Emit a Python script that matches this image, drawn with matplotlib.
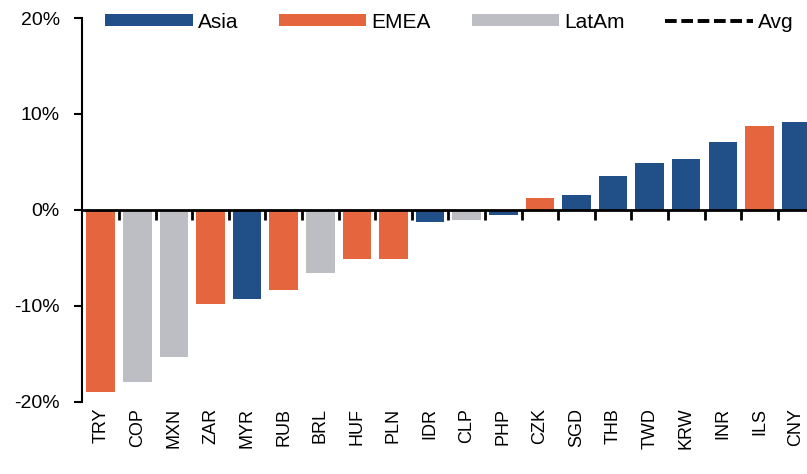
import numpy as np
import matplotlib.pyplot as plt
from matplotlib.patches import Patch
from matplotlib.lines import Line2D

plt.rcParams['font.family'] = ['Liberation Sans', 'DejaVu Sans']

# Currency performance vs USD (%), grouped by region
currencies = ['TRY', 'COP', 'MXN', 'ZAR', 'MYR', 'RUB', 'BRL', 'HUF', 'PLN', 'IDR',
              'CLP', 'PHP', 'CZK', 'SGD', 'THB', 'TWD', 'KRW', 'INR', 'ILS', 'CNY']
returns = [-19.0, -17.9, -15.3, -9.8, -9.3, -8.3, -6.6, -5.1, -5.1, -1.2,
           -1.0, -0.5, 1.2, 1.6, 3.5, 4.9, 5.3, 7.1, 8.7, 9.2]
regions = ['EMEA', 'LatAm', 'LatAm', 'EMEA', 'Asia', 'EMEA', 'LatAm', 'EMEA', 'EMEA', 'Asia',
           'LatAm', 'Asia', 'EMEA', 'Asia', 'Asia', 'Asia', 'Asia', 'Asia', 'EMEA', 'Asia']
region_names = ['Asia', 'EMEA', 'LatAm']
y_ticks = [-20, -10, 0, 10, 20]

colors = {'Asia': '#215089', 'EMEA': '#E5653E', 'LatAm': '#BDBEC4'}

fig = plt.figure(figsize=(8.07, 4.74), dpi=100)
ax = fig.add_axes([0.1016, 0.152, 0.8984, 0.810])

x = np.arange(len(currencies))
ax.bar(x, returns, width=0.78, color=[colors[r] for r in regions], zorder=2)

ax.set_xlim(-0.51, 19.30)
ax.set_ylim(-20, 20)

# y axis
ax.set_yticks(y_ticks)
ax.set_yticklabels(['%d%%' % v for v in y_ticks], fontsize=14)
ax.tick_params(axis='y', direction='out', length=6, width=1.5, pad=10)
ax.spines['left'].set_linewidth(1.5)
ax.spines['top'].set_visible(False)
ax.spines['right'].set_visible(False)

# x axis drawn through zero, ticks between the bars
ax.spines['bottom'].set_position(('data', 0))
ax.spines['bottom'].set_linewidth(2)
ax.spines['bottom'].set_zorder(3)
ax.set_xticks(x[:-1] + 0.5)
ax.set_xticklabels([])
ax.tick_params(axis='x', direction='out', length=7, width=2)

# currency labels along the bottom
for i, name in enumerate(currencies):
    ax.text(i, -0.015, name, transform=ax.get_xaxis_transform(), rotation=90,
            ha='center', va='top', fontsize=13)

handles = [Patch(facecolor=colors[r], edgecolor='none') for r in region_names]
handles.append(Line2D([], [], color='black', lw=2.8, linestyle=(0, (3, 1.2))))
fig.legend(handles, region_names + ['Avg'], loc='center left',
           bbox_to_anchor=(105 / 807, 1 - 22 / 474), ncol=4, frameon=False,
           fontsize=15, handlelength=4.2, handleheight=0.45, handletextpad=0.25,
           columnspacing=1.95, borderpad=0, borderaxespad=0)

fig.savefig('out.png', dpi=100)
